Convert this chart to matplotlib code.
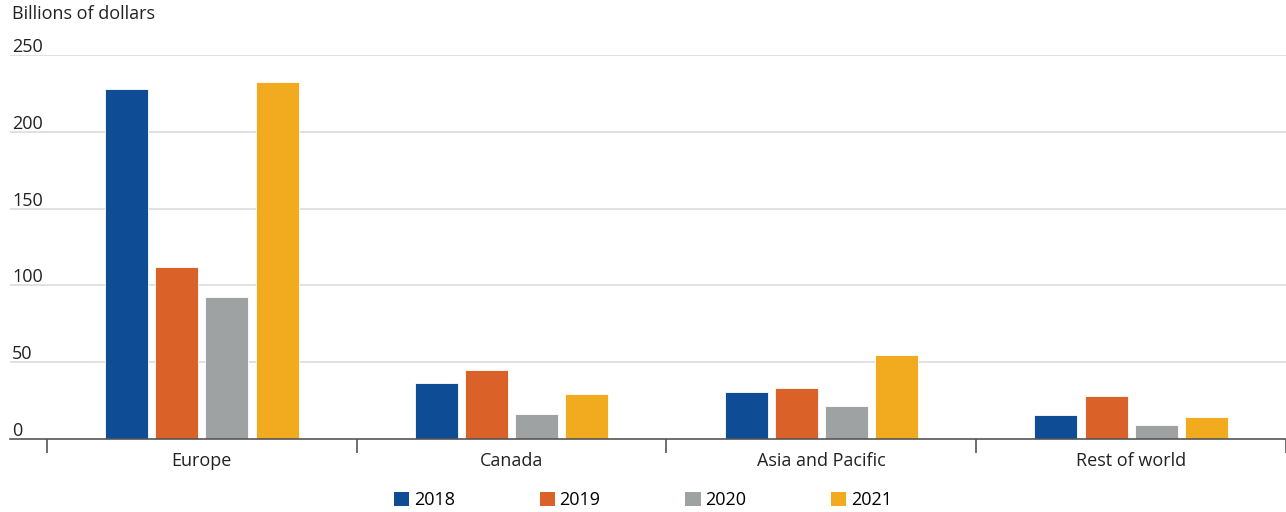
import matplotlib
matplotlib.use("Agg")
import matplotlib.pyplot as plt
import matplotlib.transforms as mtransforms
from matplotlib.patches import Patch
import numpy as np

categories = ["Europe", "Canada", "Asia and Pacific", "Rest of world"]
years = ["2018", "2019", "2020", "2021"]
v2018 = [228, 36.3, 30.8, 15.6]
v2019 = [112.3, 45, 33.2, 28.2]
v2020 = [92.4, 16.3, 21.5, 8.9]
v2021 = [232.7, 29.3, 55, 14.3]
yticks = [0, 50, 100, 150, 200, 250]
colors = ["#0E4C96", "#DA6229", "#9FA2A2", "#F2AB1F"]

plt.rcParams['font.family'] = ['Open Sans', 'DejaVu Sans']
FS = 13

fig = plt.figure(figsize=(12.86, 5.12), dpi=100)
ax = fig.add_axes([10/1286, (512-439)/512, 1 - 10/1286, (439-55)/512])

series = [v2018, v2019, v2020, v2021]
x = np.arange(len(categories))
step = 0.162
width = 0.139
for i, (vals, c) in enumerate(zip(series, colors)):
    ax.bar(x + (i - 1.5) * step, vals, width=width, color=c, edgecolor='white',
           linewidth=0.6, zorder=3)

ax.set_xlim(-0.5 - 37/310, 3.5)
ax.set_ylim(0, 250)

for s in ['top', 'right', 'left']:
    ax.spines[s].set_visible(False)
ax.spines['bottom'].set_color('#555555')
ax.spines['bottom'].set_linewidth(1.2)
ax.spines['bottom'].set_zorder(4)

for t in yticks[1:]:
    ax.axhline(t, color='#DCDCDC', linewidth=1.2, zorder=1)

ax.set_yticks([])
ax.set_xticks(np.arange(-0.5, len(categories)))
ax.set_xticklabels([])
ax.tick_params(axis='x', length=10, width=1.2, color='#555555', direction='out')
for xi, cat in zip(x, categories):
    ax.text(xi, 0, cat, transform=mtransforms.offset_copy(ax.transData, fig=fig, x=0, y=-22, units='dots'),
            ha='center', va='center', fontsize=FS, color='#222222')

tr = mtransforms.blended_transform_factory(ax.transAxes, ax.transData)
for t in yticks:
    ax.text(2/1276, t, str(t), transform=mtransforms.offset_copy(tr, fig=fig, x=0, y=3, units='dots'),
            ha='left', va='baseline', fontsize=FS, color='#222222')

fig.text(12/1286, 1 - 14/512, "Billions of dollars", ha='left', va='center', fontsize=FS, color='#222222')

handles = [Patch(facecolor=c, edgecolor='none') for c in colors]
fig.legend(handles, years, loc='center', bbox_to_anchor=(0.5, 1 - 500/512), ncol=4,
           frameon=False, fontsize=FS, handlelength=0.85, handleheight=0.85,
           handletextpad=0.25, columnspacing=4.7)

fig.savefig("out.png", dpi=100)
